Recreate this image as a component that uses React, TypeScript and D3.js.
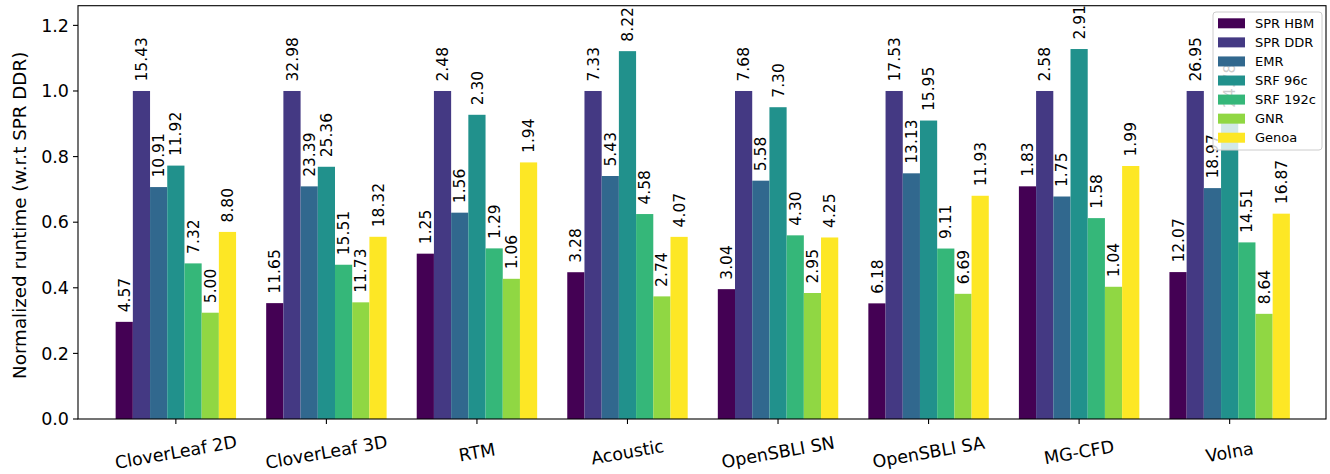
import React from "react";
import * as d3 from "d3";

const categories = ["CloverLeaf 2D", "CloverLeaf 3D", "RTM", "Acoustic", "OpenSBLI SN", "OpenSBLI SA", "MG-CFD", "Volna"];
const seriesNames = ["SPR HBM", "SPR DDR", "EMR", "SRF 96c", "SRF 192c", "GNR", "Genoa"];
const seriesColors = ["#440154", "#443983", "#31688e", "#21918c", "#35b779", "#90d743", "#fde725"];

// Runtimes (bar labels); bars are normalized w.r.t. SPR DDR
const sprHbm = [4.57, 11.65, 1.25, 3.28, 3.04, 6.18, 1.83, 12.07];
const sprDdr = [15.43, 32.98, 2.48, 7.33, 7.68, 17.53, 2.58, 26.95];
const emr = [10.91, 23.39, 1.56, 5.43, 5.58, 13.13, 1.75, 18.97];
const srf96 = [11.92, 25.36, 2.30, 8.22, 7.30, 15.95, 2.91, 24.78];
const srf192 = [7.32, 15.51, 1.29, 4.58, 4.30, 9.11, 1.58, 14.51];
const gnr = [5.00, 11.73, 1.06, 2.74, 2.95, 6.69, 1.04, 8.64];
const genoa = [8.80, 18.32, 1.94, 4.07, 4.25, 11.93, 1.99, 16.87];

const yTicks = [0.0, 0.2, 0.4, 0.6, 0.8, 1.0, 1.2];

const series = [sprHbm, sprDdr, emr, srf96, srf192, gnr, genoa];

const W = 1330;
const H = 474;
const left = 78;
const right = 1326;
const top = 5.7;
const bottom = 419;
const FONT = "DejaVu Sans, sans-serif";

export default function App() {
  const x = d3.scaleLinear().domain([-0.65, 7.64]).range([left, right]);
  const y = d3.scaleLinear().domain([0, 1.26]).range([bottom, top]);
  const groupW = 0.8;
  const barW = groupW / seriesNames.length;
  const bw = x(barW) - x(0);

  const bars: any[] = [];
  const labels: any[] = [];
  series.forEach((vals, si) => {
    vals.forEach((v, ci) => {
      const norm = v / sprDdr[ci];
      const cx = ci - groupW / 2 + barW * (si + 0.5);
      const x0 = x(cx - barW / 2);
      const yTop = y(norm);
      bars.push(
        <rect key={`b${si}-${ci}`} x={x0} y={yTop} width={bw} height={bottom - yTop} fill={seriesColors[si]} />
      );
      const lx = x(cx) + 5.6;
      const ly = yTop - 9.5;
      labels.push(
        <text key={`l${si}-${ci}`} x={lx} y={ly} transform={`rotate(-90 ${lx} ${ly})`} fontSize={15.5} fontFamily={FONT} fill="#000">
          {v.toFixed(2)}
        </text>
      );
    });
  });

  const legX = 1213;
  const legY = 12;
  const rowH = 19.07;

  return (
    <svg width={W} height={H} style={{ position: "absolute", left: 0, top: 0, background: "#fff" }}>
      <rect x={0} y={0} width={W} height={H} fill="#fff" />
      {bars}
      {labels}
      {/* axes frame */}
      <rect x={left} y={top} width={right - left} height={bottom - top} fill="none" stroke="#000" strokeWidth={1.1} />
      {/* y ticks */}
      {yTicks.map((t) => (
        <g key={`yt${t}`}>
          <line x1={left - 5} x2={left} y1={y(t)} y2={y(t)} stroke="#000" strokeWidth={1.1} />
          <text x={left - 9} y={y(t)} dy="0.36em" textAnchor="end" fontSize={17.5} fontFamily={FONT}>
            {t.toFixed(1)}
          </text>
        </g>
      ))}
      {/* x ticks */}
      {categories.map((c, i) => {
        const cx = x(i);
        const ty = 452;
        return (
          <g key={`xt${c}`}>
            <line x1={cx} x2={cx} y1={bottom} y2={bottom + 5} stroke="#000" strokeWidth={1.1} />
            <text x={cx} y={ty} dy="0.36em" textAnchor="middle" transform={`rotate(-10 ${cx} ${ty})`} fontSize={17.5} fontFamily={FONT}>
              {c}
            </text>
          </g>
        );
      })}
      {/* y label */}
      <text x={19} y={(top + bottom) / 2 + 3} transform={`rotate(-90 19 ${(top + bottom) / 2 + 3})`} textAnchor="middle" dy="0.36em" fontSize={18.3} fontFamily={FONT}>
        Normalized runtime (w.r.t SPR DDR)
      </text>
      {/* legend */}
      <rect x={legX} y={legY} width={109} height={138} rx={3} fill="#fff" fillOpacity={0.8} stroke="#cccccc" strokeWidth={1} />
      {seriesNames.map((n, i) => {
        const cy = legY + 11.3 + i * rowH;
        return (
          <g key={`lg${n}`}>
            <rect x={legX + 5} y={cy - 5} width={27} height={10} fill={seriesColors[i]} />
            <text x={legX + 42} y={cy} dy="0.36em" fontSize={13} fontFamily={FONT}>
              {n}
            </text>
          </g>
        );
      })}
    </svg>
  );
}
